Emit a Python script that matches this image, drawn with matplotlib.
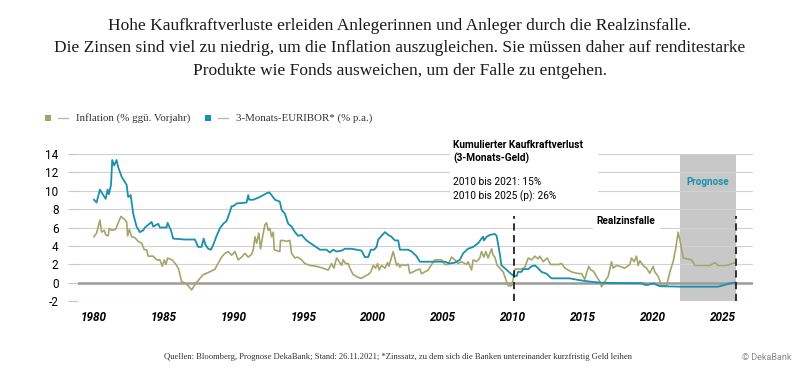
import matplotlib
matplotlib.use("Agg")
import matplotlib.pyplot as plt
from matplotlib.patches import Rectangle
from matplotlib.lines import Line2D

# Inflation (% ggü. Vorjahr) (decimal years)
infl_years = [1980.00, 1980.19, 1980.43, 1980.55, 1980.74, 1980.84, 1981.02, 1981.09, 1981.27, 1981.55,
              1981.93, 1982.17, 1982.34, 1982.41, 1982.53, 1982.70, 1982.93, 1983.17, 1983.41, 1983.60,
              1983.77, 1983.88, 1984.24, 1984.49, 1984.72, 1984.89, 1985.03, 1985.15, 1985.27, 1985.60,
              1985.92, 1986.08, 1986.27, 1986.51, 1986.75, 1986.99, 1987.22, 1987.58, 1987.82, 1988.06,
              1988.42, 1988.66, 1989.13, 1989.37, 1989.61, 1989.85, 1990.09, 1990.32, 1990.57, 1990.80,
              1991.04, 1991.28, 1991.40, 1991.52, 1991.64, 1991.80, 1991.92, 1992.07, 1992.23, 1992.35,
              1992.47, 1992.59, 1992.71, 1992.83, 1992.90, 1993.07, 1993.30, 1993.35, 1993.54, 1993.78,
              1994.02, 1994.14, 1994.38, 1994.54, 1994.69, 1994.86, 1995.09, 1995.45, 1995.93, 1996.40,
              1996.76, 1997.00, 1997.17, 1997.36, 1997.47, 1997.72, 1997.83, 1998.00, 1998.19, 1998.31,
              1998.55, 1998.91, 1999.15, 1999.38, 1999.62, 1999.81, 1999.98, 2000.15, 2000.29, 2000.41,
              2000.58, 2000.82, 2001.01, 2001.10, 2001.24, 2001.41, 2001.53, 2001.65, 2001.77, 2001.89,
              2002.01, 2002.25, 2002.48, 2002.60, 2002.84, 2003.08, 2003.32, 2003.44, 2003.68, 2003.91,
              2004.16, 2004.39, 2004.87, 2005.11, 2005.34, 2005.59, 2005.82, 2006.06, 2006.30, 2006.66,
              2006.77, 2007.02, 2007.13, 2007.37, 2007.61, 2007.73, 2007.90, 2008.04, 2008.20, 2008.45,
              2008.56, 2008.68, 2008.85, 2009.04, 2009.28, 2009.52, 2009.64, 2009.88, 2010.04, 2010.11,
              2010.59, 2010.83, 2011.07, 2011.31, 2011.55, 2011.78, 2011.90, 2012.14, 2012.43, 2012.67,
              2012.86, 2013.22, 2013.46, 2013.70, 2013.93, 2014.17, 2014.53, 2014.89, 2015.12, 2015.24,
              2015.41, 2015.55, 2015.72, 2015.96, 2016.19, 2016.32, 2016.55, 2016.79, 2017.03, 2017.15,
              2017.39, 2017.63, 2017.98, 2018.34, 2018.46, 2018.65, 2018.82, 2018.93, 2019.06, 2019.29,
              2019.54, 2019.77, 2020.01, 2020.13, 2020.37, 2020.61, 2020.97, 2021.21, 2021.44, 2021.61,
              2021.80, 2021.97, 2022.16, 2022.76, 2023.00, 2024.07, 2024.43, 2024.66, 2025.26, 2025.90]
infl_values = [5.0, 5.4, 6.8, 5.5, 5.7, 5.2, 5.1, 5.9, 5.7, 5.8,
               7.2, 6.9, 6.6, 5.1, 5.8, 5.0, 4.9, 4.5, 4.3, 3.6,
               3.6, 2.9, 2.9, 2.5, 2.5, 1.8, 2.5, 2.0, 2.7, 2.5,
               1.9, 1.4, 0.15, 0.0, -0.3, -0.75, -0.2, 0.5, 0.9, 1.05,
               1.3, 1.5, 2.8, 3.2, 3.4, 3.0, 3.4, 2.5, 2.8, 3.2,
               2.8, 3.1, 3.6, 5.0, 4.3, 5.4, 3.7, 5.0, 6.3, 6.5,
               5.7, 5.9, 5.0, 5.5, 3.6, 3.5, 3.4, 4.6, 4.6, 4.5,
               4.6, 3.2, 2.7, 2.8, 2.7, 2.5, 2.1, 1.9, 1.8, 1.6,
               1.4, 2.1, 1.6, 2.7, 2.5, 1.9, 2.5, 2.1, 2.1, 1.6,
               0.9, 0.6, 0.5, 0.75, 0.9, 1.2, 1.9, 1.6, 2.1, 1.4,
               1.9, 1.6, 2.2, 1.8, 2.5, 3.4, 2.7, 1.9, 2.1, 1.7,
               2.0, 1.9, 2.0, 1.05, 1.2, 1.4, 1.5, 1.0, 1.2, 1.4,
               2.0, 2.5, 2.5, 2.0, 2.0, 2.8, 2.5, 2.1, 2.3, 2.0,
               2.3, 1.4, 2.5, 2.3, 2.7, 3.4, 2.8, 3.4, 2.7, 3.7,
               3.0, 2.8, 1.9, 1.6, 1.2, 0.15, -0.3, -0.3, 0.7, 1.5,
               1.5, 1.7, 2.7, 2.5, 2.9, 2.6, 2.9, 2.3, 2.7, 2.0,
               2.0, 2.0, 2.1, 1.6, 1.4, 1.2, 1.05, 1.0, 0.4, 1.05,
               1.8, 1.4, 1.3, 0.7, 0.15, -0.4, 0.15, 0.7, 2.3, 1.6,
               1.9, 1.8, 1.6, 2.0, 2.7, 2.3, 2.9, 1.9, 2.4, 1.9,
               1.6, 1.05, 1.8, 1.2, 0.7, -0.3, -0.3, 1.2, 2.3, 3.6,
               5.5, 4.3, 2.7, 2.5, 1.9, 1.9, 2.2, 1.9, 1.9, 2.2]

# 3-Monats-EURIBOR (% p.a.)
eur_years = [1980.00, 1980.19, 1980.43, 1980.67, 1980.84, 1980.98, 1981.07, 1981.22, 1981.31, 1981.45,
             1981.62, 1981.74, 1981.98, 1982.34, 1982.45, 1982.63, 1982.81, 1983.05, 1983.29, 1983.53,
             1983.65, 1984.13, 1984.24, 1984.60, 1984.72, 1985.20, 1985.27, 1985.51, 1985.67, 1986.51,
             1987.22, 1987.46, 1987.70, 1987.85, 1987.99, 1988.18, 1988.37, 1988.53, 1988.78, 1989.01,
             1989.25, 1989.49, 1989.73, 1989.85, 1989.96, 1990.21, 1990.92, 1991.04, 1991.11, 1991.40,
             1991.87, 1992.35, 1992.54, 1992.71, 1992.95, 1993.30, 1993.43, 1993.66, 1993.90, 1994.14,
             1994.38, 1994.61, 1994.86, 1995.21, 1995.69, 1996.17, 1996.64, 1996.88, 1997.12, 1997.36,
             1997.72, 1997.96, 1998.43, 1998.79, 1999.15, 1999.38, 1999.62, 1999.81, 2000.05, 2000.22,
             2000.34, 2000.58, 2000.82, 2001.05, 2001.29, 2001.53, 2001.77, 2001.89, 2002.48, 2002.73,
             2003.08, 2003.32, 2004.39, 2005.11, 2005.46, 2005.82, 2006.18, 2006.41, 2006.77, 2007.13,
             2007.49, 2007.73, 2007.85, 2007.90, 2008.09, 2008.33, 2008.68, 2008.81, 2008.99, 2009.16,
             2009.40, 2009.76, 2010.04, 2010.24, 2010.35, 2010.59, 2010.71, 2011.07, 2011.31, 2011.55,
             2011.78, 2012.02, 2012.38, 2012.74, 2013.33, 2014.04, 2014.76, 2015.47, 2016.32, 2017.50,
             2019.18, 2019.42, 2019.65, 2020.01, 2020.49, 2022.04, 2024.66, 2025.14, 2025.62, 2025.90]
eur_values = [9.0, 8.7, 10.1, 9.5, 9.1, 10.1, 9.6, 10.6, 13.3, 12.7,
              13.3, 12.5, 11.5, 10.6, 9.3, 9.5, 7.5, 6.1, 5.5, 5.7,
              6.0, 6.6, 6.1, 6.4, 6.0, 6.0, 6.5, 5.7, 4.8, 4.7,
              4.7, 3.9, 3.9, 4.8, 4.1, 3.7, 3.6, 4.1, 5.1, 5.9,
              6.4, 6.7, 7.7, 8.3, 8.3, 8.6, 8.7, 9.5, 9.0, 9.0,
              9.3, 9.7, 9.8, 9.5, 9.0, 8.8, 7.9, 7.5, 6.4, 6.1,
              5.5, 5.1, 5.2, 4.6, 4.1, 3.6, 3.6, 3.3, 3.6, 3.4,
              3.5, 3.7, 3.7, 3.6, 3.5, 2.8, 2.8, 3.6, 3.6, 3.9,
              4.7, 5.1, 5.5, 5.2, 5.0, 4.6, 4.6, 3.6, 3.6, 3.4,
              2.9, 2.3, 2.3, 2.3, 2.1, 2.2, 2.5, 3.2, 3.7, 3.9,
              4.3, 4.8, 5.0, 4.6, 5.0, 5.2, 5.3, 5.1, 3.6, 1.9,
              1.6, 1.1, 0.75, 0.75, 1.2, 1.2, 1.5, 1.5, 1.8, 1.9,
              1.6, 1.2, 1.0, 0.5, 0.5, 0.5, 0.3, 0.15, 0.03, 0.0,
              -0.03, -0.2, -0.2, -0.05, -0.35, -0.4, -0.4, -0.2, 0.0, 0.05]

year_ticks = [1980, 1985, 1990, 1995, 2000, 2005, 2010, 2015, 2020, 2025]
value_ticks = [-2, 0, 2, 4, 6, 8, 10, 12, 14]

col_infl = "#a3a66a"
col_eur = "#1a8fae"
sans = "Roboto"
serif = "Liberation Serif"

fig = plt.figure(figsize=(8, 3.77), dpi=100)
ax = fig.add_axes([0.0975, 0.2003, 0.8435, 0.3925])

# prognosis shade
ax.axvspan(2021.92, 2025.95, color="#c8c8c8", lw=0, zorder=0)

ax.set_xlim(1978.86, 2027.14)
ax.set_ylim(-2, 14)
ax.set_yticks(value_ticks)
ax.set_xticks(year_ticks)
ax.set_xticklabels([str(y) for y in year_ticks], fontfamily=sans, fontsize=8.5,
                   fontweight="bold", fontstyle="italic")
ax.set_yticklabels([str(v) for v in value_ticks], fontfamily=sans, fontsize=8.5)
ax.grid(axis="y", color="#d2d2d2", lw=0.8, zorder=1)
ax.set_axisbelow(True)
ax.tick_params(axis="y", length=7, width=0.8, color="#c8c8c8", pad=7)
ax.tick_params(axis="x", length=0, pad=7)
for s in ax.spines.values():
    s.set_visible(False)
ax.axhline(0, color="#9c9c9c", lw=1.8, zorder=2)

# white boxes behind the annotations
ax.add_patch(Rectangle((2005.46, 9.0), 10.6, 5.5, facecolor="white", edgecolor="none",
                       zorder=1.5, clip_on=False))
ax.add_patch(Rectangle((2015.69, 5.39), 4.8, 2.3, facecolor="white", edgecolor="none", zorder=1.5))

ax.plot(infl_years, infl_values, color=col_infl, lw=1.2, zorder=3)
ax.plot(eur_years, eur_values, color=col_eur, lw=1.3, zorder=4)

for xv in [2010.05, 2025.95]:
    ax.plot([xv, xv], [-2, 7.2], color="#222222", lw=1.3, ls=(0, (4, 2.5)), zorder=5)

ax.text(2005.7, 14.9, "Kumulierter Kaufkraftverlust", fontfamily=sans, fontsize=7.3,
        fontweight="bold", va="center", ha="left", zorder=6)
ax.text(2005.7, 13.5, "(3-Monats-Geld)", fontfamily=sans, fontsize=7.3,
        fontweight="bold", va="center", ha="left", zorder=6)
ax.text(2005.7, 10.9, "2010 bis 2021: 15%", fontfamily=sans, fontsize=7.3,
        va="center", ha="left", zorder=6)
ax.text(2005.7, 9.4, "2010 bis 2025 (p): 26%", fontfamily=sans, fontsize=7.3,
        va="center", ha="left", zorder=6)
ax.text(2018.05, 6.75, "Realzinsfalle", fontfamily=sans, fontsize=7.3,
        fontweight="bold", va="center", ha="center", zorder=6)
ax.text(2023.92, 10.9, "Prognose", fontfamily=sans, fontsize=7.0, color=col_eur,
        fontweight="bold", va="center", ha="center", zorder=6)

# title
title_lines = ["Hohe Kaufkraftverluste erleiden Anlegerinnen und Anleger durch die Realzinsfalle.",
               "Die Zinsen sind viel zu niedrig, um die Inflation auszugleichen. Sie müssen daher auf renditestarke",
               "Produkte wie Fonds ausweichen, um der Falle zu entgehen."]
for i, line in enumerate(title_lines):
    fig.text(0.5, 1 - (30 + 22.5 * i) / 377, line, ha="center", va="baseline",
             fontfamily=serif, fontsize=12.5, color="#1a1a1a")

# legend
W, H = 800, 377
legend_items = [(45, col_infl, "Inflation (% ggü. Vorjahr)"),
                (205, col_eur, "3-Monats-EURIBOR* (% p.a.)")]
for x0, c, lab in legend_items:
    fig.patches.append(Rectangle((x0 / W, 1 - 121 / H), 6 / W, 6 / H, facecolor=c,
                                 edgecolor="none", transform=fig.transFigure, figure=fig))
    fig.lines.append(Line2D([(x0 + 13) / W, (x0 + 23) / W], [1 - 118 / H] * 2, color="#b5b5b5",
                            lw=0.9, transform=fig.transFigure, figure=fig))
    fig.text((x0 + 31) / W, 1 - 118 / H, lab, ha="left", va="center", fontfamily=serif,
             fontsize=7.8, color="#333333")

# footer
fig.text(0.497, 1 - 357 / H, "Quellen: Bloomberg, Prognose DekaBank; Stand: 26.11.2021; "
         "*Zinssatz, zu dem sich die Banken untereinander kurzfristig Geld leihen",
         ha="center", va="center", fontfamily=serif, fontsize=6.2, color="#333333")
fig.text(0.99, 1 - 357 / H, "© DekaBank", ha="right", va="center", fontfamily=sans,
         fontsize=6.5, color="#8a8a8a")

fig.savefig("out.png", dpi=100)
